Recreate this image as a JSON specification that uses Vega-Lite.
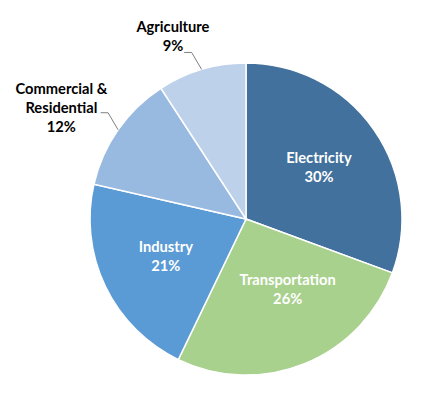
{
  "$schema": "https://vega.github.io/schema/vega-lite/v6.json",
  "width": 312,
  "height": 312,
  "autosize": {"type": "none"},
  "padding": {"left": 90, "top": 63, "right": 24, "bottom": 19},
  "background": "white",
  "config": {
    "view": {"stroke": null},
    "text": {"font": "Lato", "fontWeight": "bold", "fontSize": 14.7, "lineHeight": 19, "lineBreak": "\n"}
  },
  "data": {
    "values": [
      {"sector": "Electricity", "pct": 30, "order": 1},
      {"sector": "Transportation", "pct": 26, "order": 2},
      {"sector": "Industry", "pct": 21, "order": 3},
      {"sector": "Commercial & Residential", "pct": 12, "order": 4},
      {"sector": "Agriculture", "pct": 9, "order": 5}
    ]
  },
  "transform": [
    {"calculate": "replace(datum.sector, ' & ', ' &\\n') + '\\n' + datum.pct + '%'", "as": "label"}
  ],
  "layer": [
    {
      "mark": {"type": "arc", "stroke": "white", "strokeWidth": 1.5},
      "encoding": {
        "theta": {"field": "pct", "type": "quantitative", "stack": true},
        "order": {"field": "order", "type": "quantitative"},
        "color": {
          "field": "sector",
          "type": "nominal",
          "scale": {
            "domain": ["Electricity", "Transportation", "Industry", "Commercial & Residential", "Agriculture"],
            "range": ["#41719C", "#A9D18E", "#5B9BD5", "#98BAE0", "#BDD1EB"]
          },
          "legend": null
        }
      }
    },
    {
      "mark": {"type": "text", "radius": 89, "color": "white", "dy": -9.5},
      "encoding": {
        "theta": {"field": "pct", "type": "quantitative", "stack": true},
        "order": {"field": "order", "type": "quantitative"},
        "text": {"condition": {"test": "datum.sector === 'Electricity' || datum.sector === 'Industry'", "field": "label", "type": "nominal"}, "value": ""}
      }
    },
    {
      "mark": {"type": "text", "radius": 87, "color": "white", "dx": 9, "dy": -18.5},
      "encoding": {
        "theta": {"field": "pct", "type": "quantitative", "stack": true},
        "order": {"field": "order", "type": "quantitative"},
        "text": {"condition": {"test": "datum.sector === 'Transportation'", "field": "label", "type": "nominal"}, "value": ""}
      }
    },
    {
      "mark": {"type": "text", "radius": 156, "color": "black", "dx": -28.7, "dy": -41},
      "encoding": {
        "theta": {"field": "pct", "type": "quantitative", "stack": true},
        "order": {"field": "order", "type": "quantitative"},
        "text": {"condition": {"test": "datum.sector === 'Agriculture'", "field": "label", "type": "nominal"}, "value": ""}
      }
    },
    {
      "mark": {"type": "text", "radius": 156, "color": "black", "dx": -56.7, "dy": -40},
      "encoding": {
        "theta": {"field": "pct", "type": "quantitative", "stack": true},
        "order": {"field": "order", "type": "quantitative"},
        "text": {"condition": {"test": "datum.sector === 'Commercial & Residential'", "field": "label", "type": "nominal"}, "value": ""}
      }
    },
    {
      "transform": [
        {"joinaggregate": [{"op": "sum", "field": "pct", "as": "total"}]},
        {"window": [{"op": "sum", "field": "pct", "as": "cum"}], "sort": [{"field": "order"}], "frame": [null, 0]},
        {"filter": "datum.pct < 15"},
        {"calculate": "(datum.cum - datum.pct / 2) / datum.total * 2 * PI", "as": "a"},
        {"calculate": "sin(datum.a)", "as": "x1"},
        {"calculate": "cos(datum.a)", "as": "y1"},
        {"calculate": "datum.x1 - 0.064", "as": "x2"},
        {"calculate": "datum.y1 + 0.109", "as": "y2"}
      ],
      "mark": {"type": "rule", "color": "#7f7f7f", "strokeWidth": 1},
      "encoding": {
        "x": {"field": "x1", "type": "quantitative", "scale": {"domain": [-1, 1], "nice": false, "zero": false}, "axis": null},
        "y": {"field": "y1", "type": "quantitative", "scale": {"domain": [-1, 1], "nice": false, "zero": false}, "axis": null},
        "x2": {"field": "x2"},
        "y2": {"field": "y2"}
      }
    },
    {
      "transform": [
        {"joinaggregate": [{"op": "sum", "field": "pct", "as": "total"}]},
        {"window": [{"op": "sum", "field": "pct", "as": "cum"}], "sort": [{"field": "order"}], "frame": [null, 0]},
        {"filter": "datum.pct < 15"},
        {"calculate": "(datum.cum - datum.pct / 2) / datum.total * 2 * PI", "as": "a"},
        {"calculate": "sin(datum.a) - 0.064", "as": "x2"},
        {"calculate": "cos(datum.a) + 0.109", "as": "y2"},
        {"calculate": "datum.x2 - 0.048", "as": "x3"}
      ],
      "mark": {"type": "rule", "color": "#7f7f7f", "strokeWidth": 1},
      "encoding": {
        "x": {"field": "x2", "type": "quantitative", "scale": {"domain": [-1, 1], "nice": false, "zero": false}, "axis": null},
        "y": {"field": "y2", "type": "quantitative", "scale": {"domain": [-1, 1], "nice": false, "zero": false}, "axis": null},
        "x2": {"field": "x3"}
      }
    }
  ]
}
